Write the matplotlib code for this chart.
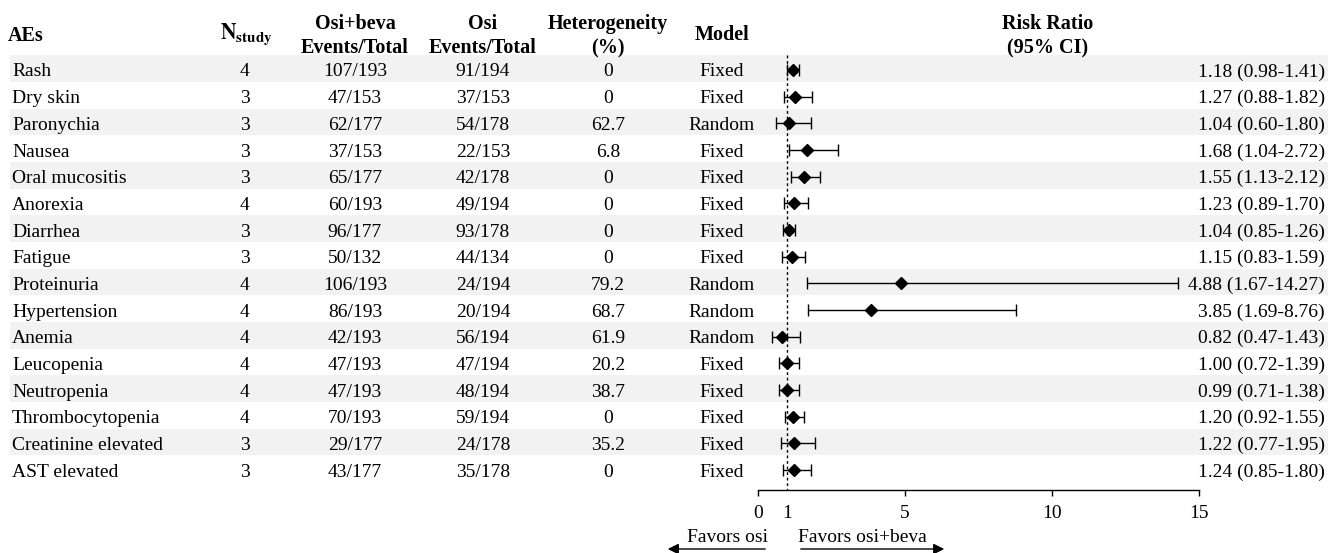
import matplotlib
matplotlib.use("Agg")
import matplotlib.pyplot as plt

plt.rcParams['font.family'] = ['Liberation Serif', 'DejaVu Serif']
plt.rcParams['mathtext.fontset'] = 'stix'

aes = ["Rash", "Dry skin", "Paronychia", "Nausea", "Oral mucositis", "Anorexia",
       "Diarrhea", "Fatigue", "Proteinuria", "Hypertension", "Anemia", "Leucopenia",
       "Neutropenia", "Thrombocytopenia", "Creatinine elevated", "AST elevated"]
n_study = [4, 3, 3, 3, 3, 4, 3, 3, 4, 4, 4, 4, 4, 4, 3, 3]
osi_beva = ["107/193", "47/153", "62/177", "37/153", "65/177", "60/193", "96/177", "50/132",
            "106/193", "86/193", "42/193", "47/193", "47/193", "70/193", "29/177", "43/177"]
osi = ["91/194", "37/153", "54/178", "22/153", "42/178", "49/194", "93/178", "44/134",
       "24/194", "20/194", "56/194", "47/194", "48/194", "59/194", "24/178", "35/178"]
heterogeneity = [0, 0, 62.7, 6.8, 0, 0, 0, 0, 79.2, 68.7, 61.9, 20.2, 38.7, 0, 35.2, 0]
model = ["Fixed", "Fixed", "Random", "Fixed", "Fixed", "Fixed", "Fixed", "Fixed",
         "Random", "Random", "Random", "Fixed", "Fixed", "Fixed", "Fixed", "Fixed"]
rr = [1.18, 1.27, 1.04, 1.68, 1.55, 1.23, 1.04, 1.15, 4.88, 3.85, 0.82, 1.00, 0.99, 1.20, 1.22, 1.24]
ci_lo = [0.98, 0.88, 0.60, 1.04, 1.13, 0.89, 0.85, 0.83, 1.67, 1.69, 0.47, 0.72, 0.71, 0.92, 0.77, 0.85]
ci_hi = [1.41, 1.82, 1.80, 2.72, 2.12, 1.70, 1.26, 1.59, 14.27, 8.76, 1.43, 1.39, 1.38, 1.55, 1.95, 1.80]
xticks = [0, 1, 5, 10, 15]

W, H = 1328, 553
fig = plt.figure(figsize=(W / 100, H / 100), dpi=100)

row0, step = 70.0, 26.67
ytop = -row0 / step
ybot_fig = (H - row0) / step
axis_px = 490
ybot_ax = (axis_px - row0) / step

bg = fig.add_axes([0, 0, 1, 1])
bg.set_xlim(0, W)
bg.set_ylim(ybot_fig, ytop)
bg.axis('off')

fs = 14
hfs = 14.5
n = len(aes)
dy = 2.0 / step  # text baseline tweak
for i in range(n):
    if i % 2 == 0:
        bg.fill_between([10, W], i - 0.55, i + 0.45, color='#f2f2f2', lw=0, zorder=0)
    ty = i + dy
    bg.text(12, ty, aes[i], ha='left', va='center', fontsize=fs)
    bg.text(245, ty, str(n_study[i]), ha='center', va='center', fontsize=fs)
    bg.text(355, ty, osi_beva[i], ha='center', va='center', fontsize=fs)
    bg.text(483, ty, osi[i], ha='center', va='center', fontsize=fs)
    h = heterogeneity[i]
    bg.text(608, ty, "0" if h == 0 else f"{h:.1f}", ha='center', va='center', fontsize=fs)
    bg.text(722, ty, model[i], ha='center', va='center', fontsize=fs)
    bg.text(1325, ty, f"{rr[i]:.2f} ({ci_lo[i]:.2f}-{ci_hi[i]:.2f})", ha='right', va='center', fontsize=fs)

hy = (36 - row0) / step
bg.text(8, hy, "AEs", ha='left', va='center', fontsize=hfs, fontweight='bold')
bg.text(246, hy - 1.5 / step, r"$\mathbf{N}_{\mathbf{study}}$", ha='center', va='center', fontsize=hfs + 1)
for x, lab in [(355, "Osi+beva\nEvents/Total"), (483, "Osi\nEvents/Total"),
               (608, "Heterogeneity\n(%)"), (1048, "Risk Ratio\n(95% CI)")]:
    bg.text(x, hy, lab, ha='center', va='center', fontsize=hfs,
            fontweight='bold', linespacing=1.3)
bg.text(722, hy - 1 / step, "Model", ha='center', va='center', fontsize=hfs, fontweight='bold')

# forest axes
x0_px, x15_px = 758, 1199
ax = fig.add_axes([x0_px / W, (H - axis_px) / H, (x15_px - x0_px) / W, axis_px / H])
ax.patch.set_alpha(0)
ax.set_xlim(0, 15)
ax.set_ylim(ybot_ax, ytop)
for s in ['top', 'right', 'left']:
    ax.spines[s].set_visible(False)
ax.spines['bottom'].set_linewidth(1.0)
ax.set_yticks([])
ax.set_xticks(xticks)
ax.set_xticklabels([str(t) for t in xticks], fontsize=fs)
ax.tick_params(axis='x', direction='out', length=4, width=1.0, pad=7)
ax.get_xticklines()[2].set_visible(False)

ax.plot([1, 1], [-0.56, ybot_ax], ls=(0, (2, 2)), color='black', lw=1.0, zorder=1)

ys = list(range(n))
xerr = [[r - l for r, l in zip(rr, ci_lo)], [h - r for r, h in zip(rr, ci_hi)]]
ax.errorbar(rr, ys, xerr=xerr, fmt='D', color='black', ms=6, ecolor='black',
            elinewidth=1.0, capsize=4, capthick=1.0, zorder=3)

# arrows
ya = (549 - row0) / step
yt = (538 - row0) / step
ax.annotate("", xy=((665 - x0_px) / 29.4, ya), xytext=((768 - x0_px) / 29.4, ya),
            arrowprops=dict(arrowstyle='-|>', color='black', lw=1.0, mutation_scale=16),
            annotation_clip=False)
ax.annotate("", xy=((947 - x0_px) / 29.4, ya), xytext=((798 - x0_px) / 29.4, ya),
            arrowprops=dict(arrowstyle='-|>', color='black', lw=1.0, mutation_scale=16),
            annotation_clip=False)
ax.text((768 - x0_px) / 29.4, yt, "Favors osi", ha='right', va='center', fontsize=fs, clip_on=False)
ax.text((798 - x0_px) / 29.4, yt, "Favors osi+beva", ha='left', va='center', fontsize=fs, clip_on=False)

fig.savefig("out.png", dpi=100)
